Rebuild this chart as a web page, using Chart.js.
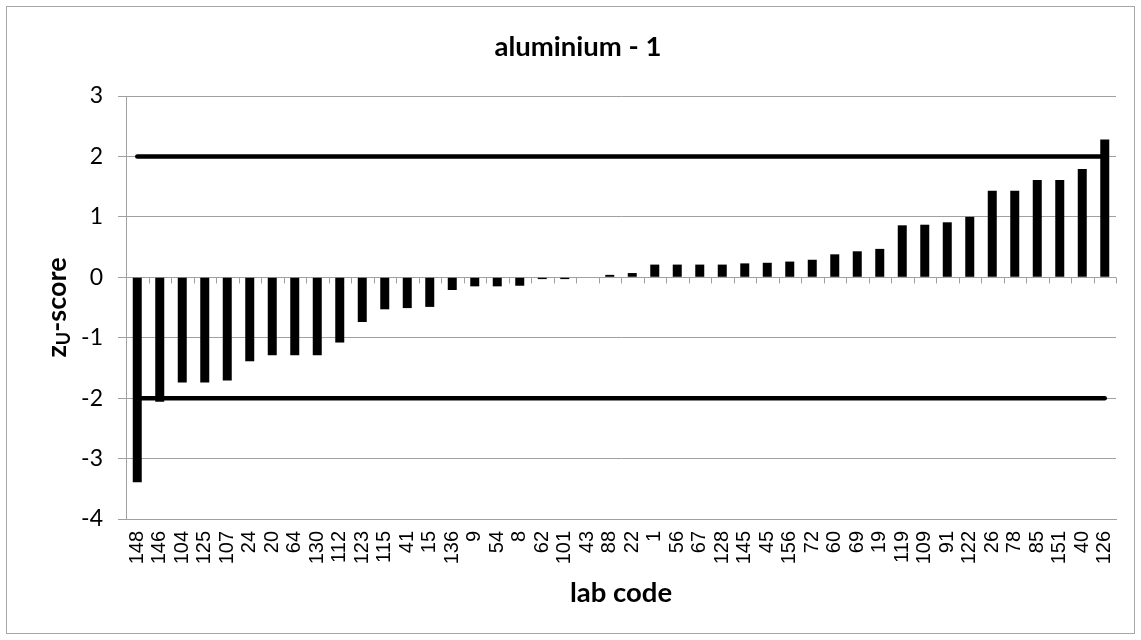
<!DOCTYPE html>
<html>
<head>
<meta charset="utf-8">
<script src="https://cdn.jsdelivr.net/npm/chart.js@4.4.1/dist/chart.umd.min.js"></script>
<style>
  body { margin: 0; background: #fff; }
</style>
</head>
<body>
<canvas id="zChart" width="1141" height="640"></canvas>
<script>
// z-score chart, aluminium - 1

const labCodes = ["148","146","104","125","107","24","20","64","130","112","123","115","41","15","136","9","54","8","62","101","43","88","22","1","56","67","128","145","45","156","72","60","69","19","119","109","91","122","26","78","85","151","40","126"];
const zScores = [-3.39,-2.06,-1.74,-1.74,-1.71,-1.39,-1.29,-1.29,-1.29,-1.08,-0.74,-0.53,-0.51,-0.49,-0.21,-0.15,-0.15,-0.14,-0.03,-0.03,0,0.04,0.07,0.21,0.21,0.21,0.21,0.23,0.24,0.26,0.29,0.38,0.43,0.47,0.86,0.87,0.91,1.00,1.43,1.43,1.61,1.61,1.79,2.28];
const upperLimit = labCodes.map(() => 2);
const lowerLimit = labCodes.map(() => -2);
const yTicks = [3, 2, 1, 0, -1, -2, -3, -4];

const gridGray = "#a0a0a0";

// white background + thin frame round the whole chart
const framePlugin = {
    id: "frame",
    beforeDraw(chart) {
        const c = chart.ctx;
        c.save();
        c.fillStyle = "#fff";
        c.fillRect(0, 0, chart.width, chart.height);
        c.strokeStyle = "#a6a6a6";
        c.lineWidth = 1;
        c.strokeRect(6.5, 6.5, chart.width - 13, chart.height - 13);
        c.restore();
    }
};

// category tick marks sitting on the zero line (axis crosses at 0)
const zeroTicksPlugin = {
    id: "zeroTicks",
    beforeDatasetsDraw(chart) {
        const x = chart.scales.x, y = chart.scales.y;
        const y0 = Math.round(y.getPixelForValue(0)) + 0.5;
        const c = chart.ctx;
        c.save();
        c.strokeStyle = gridGray;
        c.lineWidth = 1;
        c.beginPath();
        for (let i = 0; i <= labCodes.length; i++) {
            let px;
            if (i === 0) px = x.left;
            else if (i === labCodes.length) px = x.right;
            else px = (x.getPixelForValue(i - 1) + x.getPixelForValue(i)) / 2;
            px = Math.round(px) + 0.5;
            c.moveTo(px, y0);
            c.lineTo(px, y0 + 6);
        }
        c.stroke();
        c.restore();
    }
};

// y axis title with the subscript U
const yTitlePlugin = {
    id: "yTitle",
    afterDraw(chart) {
        const c = chart.ctx;
        const area = chart.chartArea;
        const big = "bold 27px Lato";
        const small = "bold 18px Lato";
        c.save();
        c.font = big;
        const wz = c.measureText("z").width;
        const wRest = c.measureText("-score").width;
        c.font = small;
        const wU = c.measureText("U").width;
        const total = wz + wU + wRest;
        c.translate(66, (area.top + area.bottom) / 2);
        c.rotate(-Math.PI / 2);
        c.fillStyle = "#000";
        c.textBaseline = "alphabetic";
        c.textAlign = "left";
        let x0 = -total / 2;
        c.font = big;
        c.fillText("z", x0, 0);
        c.font = small;
        c.fillText("U", x0 + wz, 4);
        c.font = big;
        c.fillText("-score", x0 + wz + wU, 0);
        c.restore();
    }
};

new Chart(document.getElementById("zChart"), {
    data: {
        labels: labCodes,
        datasets: [
            {
                type: "line",
                data: upperLimit,
                borderColor: "#000",
                borderWidth: 4.5,
                borderCapStyle: "round",
                pointRadius: 0,
                order: 2
            },
            {
                type: "line",
                data: lowerLimit,
                borderColor: "#000",
                borderWidth: 4.5,
                borderCapStyle: "round",
                pointRadius: 0,
                order: 2
            },
            {
                type: "bar",
                data: zScores,
                backgroundColor: "#000",
                barPercentage: 0.4,
                categoryPercentage: 1.0,
                order: 1
            }
        ]
    },
    options: {
        responsive: false,
        animation: false,
        devicePixelRatio: 1,
        layout: { padding: { left: 36, right: 21, top: 0, bottom: 0 } },
        plugins: {
            legend: { display: false },
            tooltip: { enabled: false },
            title: {
                display: true,
                text: "aluminium - 1",
                color: "#000",
                font: { family: "Lato", size: 27.5, weight: "bold", lineHeight: 1.2 },
                padding: { top: 31, bottom: 32 }
            }
        },
        scales: {
            x: {
                offset: true,
                grid: { display: false, drawTicks: false },
                border: { display: true, color: gridGray, width: 1 },
                ticks: {
                    color: "#000",
                    font: { family: "Liberation Sans", size: 20 },
                    minRotation: 90,
                    maxRotation: 90,
                    autoSkip: false,
                    padding: 12
                },
                title: {
                    display: true,
                    text: "lab code",
                    color: "#000",
                    font: { family: "Lato", size: 27.5, weight: "bold", lineHeight: 1.2 },
                    padding: { top: 0, bottom: 30 }
                },
                afterFit(scale) { scale.height = 121; }
            },
            y: {
                min: -4,
                max: 3,
                afterBuildTicks(scale) {
                    scale.ticks = yTicks.map(v => ({ value: v }));
                },
                grid: { color: gridGray, tickLength: 8, drawTicks: true },
                border: { display: true, color: gridGray, width: 1 },
                ticks: {
                    color: "#000",
                    font: { family: "Lato", size: 23 },
                    padding: 15
                },
                afterFit(scale) { scale.width = 90; }
            }
        }
    },
    plugins: [framePlugin, zeroTicksPlugin, yTitlePlugin]
});
</script>
</body>
</html>
